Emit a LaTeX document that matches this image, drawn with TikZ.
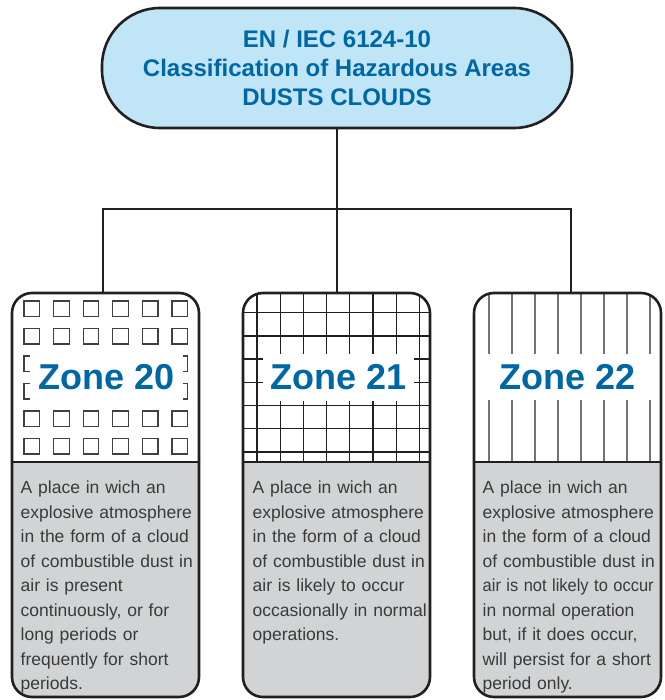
\documentclass[tikz,border=0pt]{standalone}
\usepackage{fontspec}
\usepackage{graphicx}
\setmainfont{Liberation Sans}
\definecolor{titleblue}{HTML}{0067A5}
\definecolor{ovalblue}{HTML}{BFE5F7}
\definecolor{descgrey}{HTML}{D1D3D4}
\definecolor{descink}{HTML}{3A3A3A}
\definecolor{ink}{HTML}{231F20}

\begin{document}
\begin{tikzpicture}[x=1pt,y=-1pt]
% Styles
 \tikzstyle{titlebox}=[rectangle,draw=ink,line width=2.6pt,fill=ovalblue,rounded corners=58pt,minimum width=470pt,minimum height=120pt,align=center,text=titleblue,font=\bfseries\fontsize{24}{29}\selectfont]
 \tikzstyle{zonebox}=[rectangle,draw=ink,line width=2.6pt,rounded corners=20pt,minimum width=187pt,minimum height=404pt,inner sep=0pt]
 \tikzstyle{zonename}=[fill=white,inner sep=0pt,text=titleblue,font=\bfseries\fontsize{36}{36}\selectfont]
 \tikzstyle{desc}=[anchor=north west,inner sep=0pt,text width=210pt,align=left,text=descink,font=\fontsize{17.5}{24.5}\selectfont]
 \tikzstyle{link}=[draw=ink,line width=2.6pt]
 \tikzstyle{sqline}=[draw=black!75,line width=1.2pt]
 \tikzstyle{gridline}=[draw=ink,line width=1.3pt]
 \tikzstyle{stripeline}=[draw=black!55,line width=1.2pt]
 \useasboundingbox (0,0) rectangle (664,700);
% Zone 20 pattern
 \begin{scope}
  \clip[rounded corners=20pt] (12,293) rectangle (199,697);
  \fill[descgrey] (12,462) rectangle (199,697);
  \foreach \i in {0,...,5}
   \foreach \j in {0,...,5}
    \draw[sqline] (24+29.6*\i,301+27.5*\j) rectangle +(15.5,15.5);
 \end{scope}
% Zone 21 pattern
 \begin{scope}
  \clip[rounded corners=20pt] (243,293) rectangle (430,697);
  \fill[descgrey] (243,462) rectangle (430,697);
  \foreach \i in {0,...,7}
   \draw[gridline] (257+23.2*\i,293) -- +(0,169);
  \foreach \j in {0,...,6}
   \draw[gridline] (243,312.7+23.2*\j) -- +(187,0);
 \end{scope}
% Zone 22 pattern
 \begin{scope}
  \clip[rounded corners=20pt] (474,293) rectangle (661,697);
  \fill[descgrey] (474,462) rectangle (661,697);
  \foreach \i in {0,...,7}
   \draw[stripeline] (489+23*\i,293) -- +(0,169);
 \end{scope}
% Boxes
 \node[zonebox] (z20) at (105.5,495) {};
 \node[zonebox] (z21) at (336.5,495) {};
 \node[zonebox] (z22) at (567.5,495) {};
 \draw[link] (z20.west |- 0,462) -- (z20.east |- 0,462);
 \draw[link] (z21.west |- 0,462) -- (z21.east |- 0,462);
 \draw[link] (z22.west |- 0,462) -- (z22.east |- 0,462);
% Zone names
 \node[zonename,minimum width=153pt,minimum height=54pt] (n20) at (106.5,377) {Zone 20};
 \node[zonename,minimum width=151pt,minimum height=47pt] (n21) at (338.5,377.5) {Zone 21};
 \node[zonename,minimum width=172pt,minimum height=46pt] (n22) at (568,377) {Zone 22};
% Descriptions
 \node[desc] (d20) at (20.5,481) {A place in wich an\\explosive atmosphere\\in the form of a cloud\\of combustible dust in\\air is present\\continuously, or for\\long periods or\\frequently for short\\periods.};
 \node[desc] (d21) at (252.5,481) {A place in wich an\\explosive atmosphere\\in the form of a cloud\\of combustible dust in\\air is likely to occur\\occasionally in normal\\operations.};
 \node[desc] (d22) at (482.5,481) {A place in wich an\\explosive atmosphere\\in the form of a cloud\\of combustible dust in\\\scalebox{0.94}[1]{air is not likely to occur}\\in normal operation\\but, if it does occur,\\will persist for a short\\period only.};
% Title and links
 \node[titlebox] (top) at (337,68) {EN / IEC 6124-10\\Classification of Hazardous Areas\\DUSTS CLOUDS};
 \coordinate (forkl) at (103,209);
 \coordinate (forkr) at (571,209);
 \draw[link] (top.south) -- (top.south |- z21.north);
 \draw[link] (forkl |- z20.north) -- (forkl) -- (forkr) -- (forkr |- z22.north);
\end{tikzpicture}
\end{document}
